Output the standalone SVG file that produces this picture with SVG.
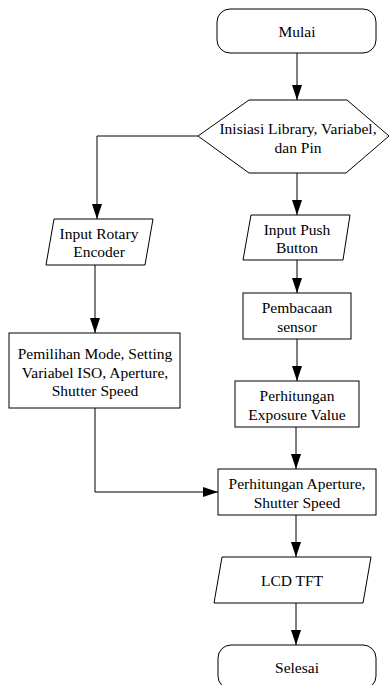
<svg xmlns="http://www.w3.org/2000/svg" width="390" height="685" viewBox="0 0 390 685">
<defs>
<style>
.s{fill:#fff;stroke:#000;stroke-width:1}
.t{font-family:"Liberation Serif","DejaVu Serif",serif;font-size:15.5px;fill:#000;text-anchor:middle;dominant-baseline:central}
.c{fill:none;stroke:#000;stroke-width:1;marker-end:url(#a)}
</style>
<marker id="a" markerWidth="15" markerHeight="10" refX="15" refY="5" orient="auto" markerUnits="userSpaceOnUse">
<path d="M0,0 L15,5 L0,10 Z" fill="#000"/>
</marker>
</defs>
<rect width="390" height="685" fill="#fff"/>
<g id="connectors">
<path class="c" d="M297,53 V100"/>
<path class="c" d="M198,136 H97 V219"/>
<path class="c" d="M297,173 V215"/>
<path class="c" d="M95,265 V333"/>
<path class="c" d="M297,260 V293"/>
<path class="c" d="M297,339 V381"/>
<path class="c" d="M296,427 V469"/>
<path class="c" d="M95,408 V492 H218"/>
<path class="c" d="M296,515 V557"/>
<path class="c" d="M296,603 V645"/>
</g>
<g id="mulai">
<rect class="s" x="217" y="9" width="159" height="44" rx="13"/>
<text class="t" x="297" y="31">Mulai</text>
</g>
<g id="inisiasi">
<polygon class="s" points="249,100 347,100 389,136 346,173 249,173 198,136"/>
<text class="t" x="298" y="128">Inisiasi Library, Variabel,</text>
<text class="t" x="298" y="147">dan Pin</text>
</g>
<g id="rotary">
<polygon class="s" points="54,219 153,219 145,265 46,265"/>
<text class="t" x="99" y="233">Input Rotary</text>
<text class="t" x="99" y="251">Encoder</text>
</g>
<g id="pemilihan">
<rect class="s" x="9" y="333" width="171" height="75"/>
<text class="t" x="95" y="353">Pemilihan Mode, Setting</text>
<text class="t" x="95" y="372">Variabel ISO, Aperture,</text>
<text class="t" x="95" y="390">Shutter Speed</text>
</g>
<g id="pushbutton">
<polygon class="s" points="251,215 350,215 343,260 243,260"/>
<text class="t" x="297" y="229">Input Push</text>
<text class="t" x="297" y="247">Button</text>
</g>
<g id="pembacaan">
<rect class="s" x="243" y="293" width="108" height="46"/>
<text class="t" x="297" y="307">Pembacaan</text>
<text class="t" x="297" y="326">sensor</text>
</g>
<g id="exposure">
<rect class="s" x="235" y="381" width="124" height="46"/>
<text class="t" x="297" y="395">Perhitungan</text>
<text class="t" x="297" y="414">Exposure Value</text>
</g>
<g id="aperture">
<rect class="s" x="218" y="469" width="158" height="46"/>
<text class="t" x="297" y="483">Perhitungan Aperture,</text>
<text class="t" x="297" y="502">Shutter Speed</text>
</g>
<g id="lcd">
<polygon class="s" points="222,557 371,557 363,603 214,603"/>
<text class="t" x="292" y="580">LCD TFT</text>
</g>
<g id="selesai">
<rect class="s" x="218" y="645" width="158" height="44" rx="13"/>
<text class="t" x="297" y="667">Selesai</text>
</g>
</svg>
